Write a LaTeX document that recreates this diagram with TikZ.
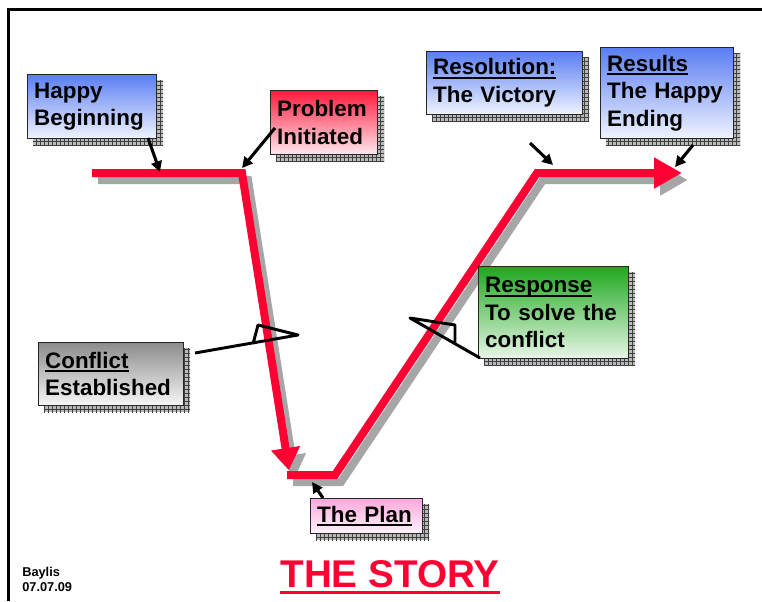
\documentclass[tikz,border=0pt]{standalone}
\usepackage{fontspec}
\setmainfont{Liberation Sans}
\usetikzlibrary{arrows.meta,patterns,backgrounds}
\definecolor{blueTop}{HTML}{5A7EF2}
\definecolor{blueBot}{HTML}{F0F3FF}
\definecolor{redTop}{HTML}{FF1A3C}
\definecolor{redBot}{HTML}{FFE8EE}
\definecolor{grayTop}{HTML}{8C8C8C}
\definecolor{grayBot}{HTML}{F6F6F6}
\definecolor{greenTop}{HTML}{1EA81E}
\definecolor{greenBot}{HTML}{E8F6E8}
\definecolor{pinkTop}{HTML}{FFA8DC}
\definecolor{pinkBot}{HTML}{FFF3FB}
\definecolor{storyred}{HTML}{FF0033}
\newsavebox\ulbox
\newcommand{\myul}[1]{\sbox\ulbox{#1}\rlap{\rule[-3.2pt]{\wd\ulbox}{1.5pt}}\usebox\ulbox}
\newcommand{\redul}[1]{\sbox\ulbox{#1}\rlap{\rule[-5pt]{\wd\ulbox}{2.2pt}}\usebox\ulbox}
\tikzset{
  storybox/.style={draw=black!85, line width=0.8pt, anchor=north west,
    inner xsep=5pt, inner ysep=0pt, align=left,
    font=\fontsize{16.8}{20.8}\selectfont\bfseries},
  storyline/.style={line width=6pt, draw=storyred, line join=miter},
  shadowline/.style={line width=6pt, draw=gray!70, line join=miter},
  pointer/.style={line width=2.3pt, -{Triangle[width=8pt,length=8pt]}},
  callout/.style={line width=2.2pt, line join=round},
  bigtip/.style={-{Triangle[width=21pt,length=16.5pt]}},
  endtip/.style={-{Triangle[width=22pt,length=21pt]}}
}
\begin{document}
\begin{tikzpicture}[x=0.75pt,y=-0.75pt]
\useasboundingbox (0,0) rectangle (762,601);
% frame
\draw[line width=1.6pt] (8.5,601) -- (8.5,9.5) -- (762,9.5);

% line shadows
\begin{scope}[shift={(6,7)}]
  \draw[shadowline,bigtip] (92,173) -- (242,173) -- (289,470);
  \draw[shadowline,endtip] (287,475) -- (335,475) -- (537,173) -- (682,173);
\end{scope}
% red story line
\draw[storyline,bigtip] (92,173) -- (242,173) -- (289,470);
\draw[storyline,endtip] (287,475) -- (335,475) -- (537,173) -- (682,173);

% boxes
\node[storybox, top color=blueTop, bottom color=blueBot,
  minimum width=96.75pt, minimum height=48pt, text width=86.75pt]
  (happy) at (27,74) {Happy\\Beginning};
\node[storybox, top color=redTop, bottom color=redBot,
  minimum width=80.25pt, minimum height=48pt, text width=70.25pt]
  (problem) at (270,90) {Problem\\Initiated};
\node[storybox, top color=blueTop, bottom color=blueBot,
  minimum width=117pt, minimum height=47.25pt, text width=107pt]
  (resolution) at (426,51) {\myul{Resolution:}\\The Victory};
\node[storybox, top color=blueTop, bottom color=blueBot,
  minimum width=99.75pt, minimum height=68.25pt, text width=89.75pt]
  (results) at (600,47) {\myul{Results}\\The~Happy\\Ending};
\node[storybox, top color=grayTop, bottom color=grayBot,
  minimum width=108.75pt, minimum height=47.25pt, text width=98.75pt]
  (conflict) at (38,342) {\myul{Conflict}\\Established};
\node[storybox, top color=greenTop, bottom color=greenBot,
  minimum width=112.5pt, minimum height=69pt, text width=102.5pt]
  (response) at (478,266) {\myul{Response}\\To~solve~the\\conflict};
\node[storybox, top color=pinkTop, bottom color=pinkBot,
  minimum width=84pt, minimum height=26.25pt, text width=74pt]
  (plan) at (310,498) {\myul{The Plan}};

% box shadows
\begin{scope}[on background layer]
\foreach \n in {happy,problem,resolution,results,conflict,response,plan}{
  \fill[gray!55] ([shift={(6,6)}]\n.north west) rectangle ([shift={(6,6)}]\n.south east);
  \fill[pattern=grid, pattern color=black!75] ([shift={(6,6)}]\n.north west) rectangle ([shift={(6,6)}]\n.south east);
}
\end{scope}

% pointers
\coordinate (hbS) at (148,138); \coordinate (hbE) at (160,172);
\coordinate (piS) at (275,128); \coordinate (piE) at (242,168);
\coordinate (rvS) at (530,143); \coordinate (rvE) at (553,165);
\coordinate (reS) at (693,145); \coordinate (reE) at (675,167);
\coordinate (plS) at (323,498); \coordinate (plE) at (312,482);
\draw[pointer] (hbS) -- (hbE);
\draw[pointer] (piS) -- (piE);
\draw[pointer] (rvS) -- (rvE);
\draw[pointer] (reS) -- (reE);
\draw[pointer] (plS) -- (plE);

% callouts
\coordinate (cfS) at (195,353); \coordinate (cfC) at (298,335);
\coordinate (cfB) at (258,325); \coordinate (cfA) at (253,344);
\draw[callout] (cfS) -- (cfC) -- (cfB) -- (cfA);
\coordinate (rsS) at (480,358); \coordinate (rsA) at (410,318);
\coordinate (rsB) at (455,325); \coordinate (rsC) at (455,343);
\draw[callout] (rsS) -- (rsA) -- (rsB) -- (rsC);

% texts
\node[anchor=north west, inner sep=0pt, align=left,
  font=\fontsize{9.6}{11.5}\selectfont\bfseries] (author) at (22,567) {Baylis\\07.07.09};
\node[anchor=base, inner sep=0pt, text=storyred,
  font=\fontsize{29}{31}\selectfont\bfseries] (title) at (390,587) {\redul{THE STORY}};
\end{tikzpicture}
\end{document}
